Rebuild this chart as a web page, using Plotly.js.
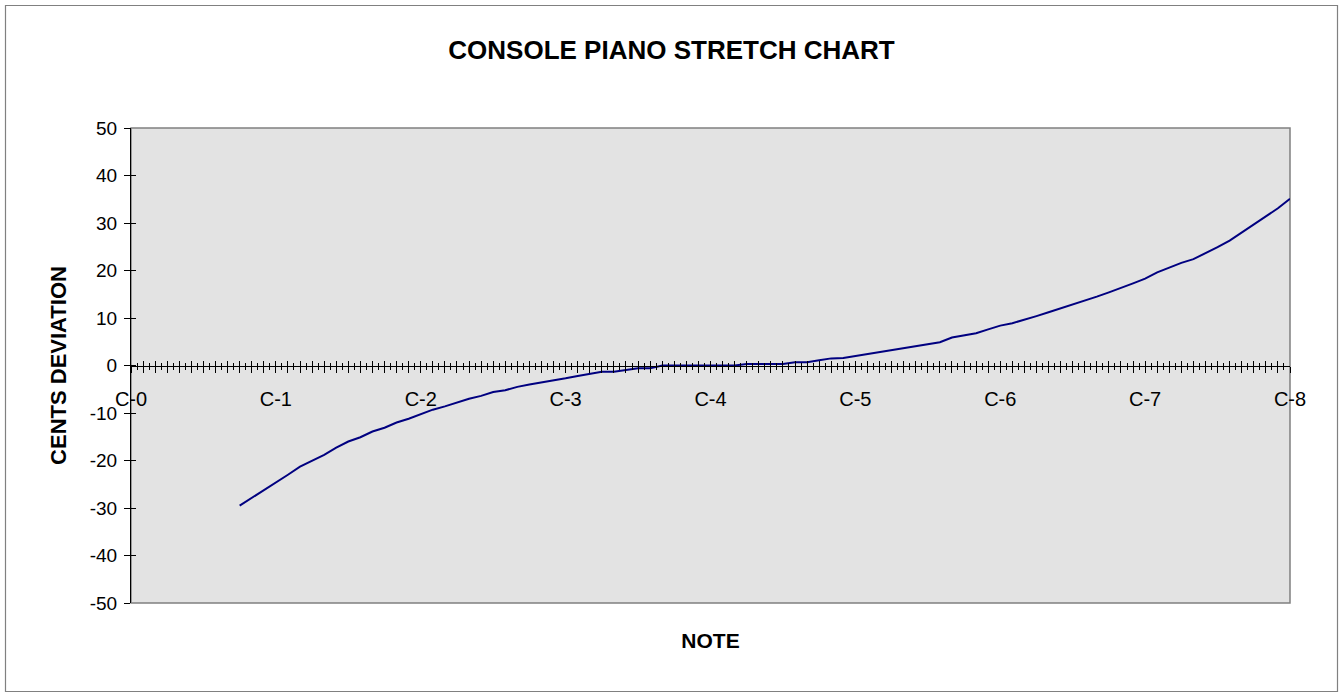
<!DOCTYPE html>
<html>
<head>
<meta charset="utf-8">
<script src="https://cdn.plot.ly/plotly-3.0.1.min.js"></script>
<style>html,body{margin:0;padding:0;background:#fff;}#chart{width:1343px;height:693px;}</style>
</head>
<body>
<div id="chart"></div>
<script>
// Tick labels (one per octave C)
const octaveLabels = ['C-0','C-1','C-2','C-3','C-4','C-5','C-6','C-7','C-8'];
// Y tick labels
const yTickVals = [-50, -40, -30, -20, -10, 0, 10, 20, 30, 40, 50];
const yTickText = ['-50', '-40', '-30', '-20', '-10', '0', '10', '20', '30', '40', '50'];
// First piano key (A-0) is 9 semitones above C-0
const firstKey = 9;
// Cents deviation for the 88 keys, A-0 ... C-8
const cents = [
  -29.5, -27.9, -26.2,                                    // A0 A#0 B0
  -24.6, -23.0, -21.3, -20.0, -18.8, -17.3, -16.0, -15.1, -13.9, -13.1, -12.0, -11.2, // octave 1
  -10.2, -9.3, -8.6, -7.8, -7.0, -6.4, -5.6, -5.2, -4.5, -4.0, -3.6, -3.1,             // octave 2
  -2.7, -2.2, -1.8, -1.3, -1.3, -1.0, -0.6, -0.6, 0.0, 0.0, 0.0, 0.0,                  // octave 3
  0.0, 0.0, 0.0, 0.3, 0.3, 0.3, 0.3, 0.7, 0.7, 1.1, 1.5, 1.6,                          // octave 4
  2.0, 2.4, 2.8, 3.2, 3.6, 4.0, 4.4, 4.9, 5.9, 6.3, 6.8, 7.6,                          // octave 5
  8.4, 8.9, 9.6, 10.4, 11.2, 12.0, 12.8, 13.6, 14.5, 15.4, 16.3, 17.3,                 // octave 6
  18.3, 19.6, 20.6, 21.6, 22.4, 23.6, 24.9, 26.3, 28.0, 29.7, 31.3, 33.1,              // octave 7
  35.1                                                                                  // C8
];
const keyPos = cents.map((_, k) => firstKey + k);
const lastPos = (octaveLabels.length - 1) * 12;

const tickVals = [];
const tickText = [];
for (let i = 0; i <= lastPos; i++) {
  tickVals.push(i);
  tickText.push(i % 12 === 0 ? octaveLabels[i / 12] : '');
}

const FONT = 'Arial, "Liberation Sans", sans-serif';
const W = 1343, H = 693, L = 131, R = 53, T = 128, B = 90;
const pw = W - L - R, ph = H - T - B;
const px = v => (v - L) / pw;
const py = v => 1 - (v - T) / ph;

const trace = {
  x: keyPos, y: cents, type: 'scatter', mode: 'lines',
  line: {color: '#000080', width: 2},
  xaxis: 'x', yaxis: 'y', hoverinfo: 'skip', showlegend: false
};
// invisible carriers so the overlay axes get drawn
const carrier = (xa, ya) => ({
  x: [0, lastPos], y: [0, 0], type: 'scatter', mode: 'markers',
  marker: {opacity: 0, size: 1}, xaxis: xa, yaxis: ya, hoverinfo: 'skip', showlegend: false
});

const layout = {
  width: W, height: H,
  margin: {l: L, r: R, t: T, b: B, pad: 0},
  paper_bgcolor: '#ffffff',
  plot_bgcolor: '#e3e3e3',
  font: {family: FONT, color: '#000', size: 18},
  showlegend: false,
  title: {
    text: '<b>CONSOLE PIANO STRETCH CHART</b>',
    font: {family: FONT, size: 26, color: '#000'},
    x: 0.5, xref: 'container', xanchor: 'center',
    y: 1 - 50 / H, yref: 'container', yanchor: 'middle'
  },
  xaxis: {
    range: [0, lastPos], fixedrange: true,
    showline: false, showgrid: false, zeroline: false,
    ticks: '', showticklabels: false,
    title: {text: '<b>NOTE</b>', font: {family: FONT, size: 21, color: '#000'}, standoff: 30}
  },
  xaxis2: {
    overlaying: 'x', anchor: 'free', position: 0.5,
    range: [0, lastPos], fixedrange: true,
    showline: true, linecolor: '#000', linewidth: 1,
    showgrid: false, zeroline: false,
    tickmode: 'array', tickvals: tickVals, ticktext: tickText,
    ticks: 'outside', ticklen: 6, tickwidth: 1, tickcolor: '#000',
    minor: {tickmode: 'linear', tick0: 0.5, dtick: 1, ticks: 'outside', ticklen: 3, tickcolor: '#000', tickwidth: 1, showgrid: false},
    ticklabelstandoff: 9,
    tickfont: {family: FONT, size: 20, color: '#000'}
  },
  xaxis3: {
    overlaying: 'x', anchor: 'free', position: 0.5,
    range: [0, lastPos], fixedrange: true,
    showline: false, showgrid: false, zeroline: false,
    tickmode: 'linear', tick0: 0, dtick: 1,
    ticks: 'inside', ticklen: 5, tickwidth: 1, tickcolor: '#000',
    minor: {tickmode: 'linear', tick0: 0.5, dtick: 1, ticks: 'inside', ticklen: 3, tickcolor: '#000', tickwidth: 1, showgrid: false},
    showticklabels: false
  },
  yaxis: {
    range: [-50, 50], fixedrange: true,
    tickmode: 'array', tickvals: yTickVals, ticktext: yTickText,
    showline: true, linecolor: '#000', linewidth: 1,
    showgrid: false, zeroline: false,
    ticks: 'outside', ticklen: 6, tickwidth: 1, tickcolor: '#000',
    ticklabelstandoff: 3,
    tickfont: {family: FONT, size: 19, color: '#000'},
    title: {text: '<b>CENTS DEVIATION</b>', font: {family: FONT, size: 22, color: '#000'}, standoff: 17}
  },
  yaxis2: {
    overlaying: 'y', anchor: 'x', side: 'left',
    range: [-50, 50], fixedrange: true,
    tickmode: 'linear', tick0: -50, dtick: 10,
    showline: false, showgrid: false, zeroline: false,
    ticks: 'inside', ticklen: 5, tickwidth: 1, tickcolor: '#000',
    showticklabels: false
  },
  shapes: [
    {type: 'rect', xref: 'x domain', yref: 'y domain', x0: 0, x1: 1, y0: 0, y1: 1,
     line: {color: '#808080', width: 1.5}, fillcolor: 'rgba(0,0,0,0)', layer: 'below'},
    {type: 'rect', xref: 'paper', yref: 'paper',
     x0: px(5.5), x1: px(1337.5), y0: py(691.5), y1: py(5.5),
     line: {color: '#808080', width: 1.2}, fillcolor: 'rgba(0,0,0,0)', layer: 'below'}
  ]
};

Plotly.newPlot('chart', [trace, carrier('x2', 'y'), carrier('x3', 'y'), carrier('x', 'y2')], layout,
  {displayModeBar: false, staticPlot: true});
</script>
</body>
</html>
